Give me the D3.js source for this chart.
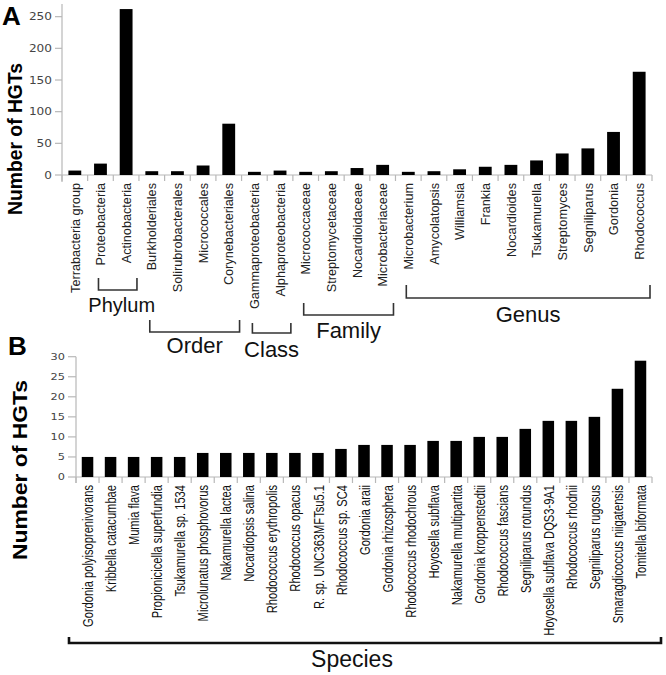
<!DOCTYPE html>
<html><head><meta charset="utf-8">
<script src="https://cdn.jsdelivr.net/npm/d3@7"></script>
<style>
html,body{margin:0;padding:0;background:#fff;}
svg{display:block;font-family:"Liberation Sans",Arial,sans-serif;}
</style></head>
<body>
<svg id="chart" width="666" height="675"></svg>
<script>
// ---------- data ----------
const categoriesA = ["Terrabacteria group","Proteobacteria","Actinobacteria","Burkholderiales","Solirubrobacterales","Micrococcales","Corynebacteriales","Gammaproteobacteria","Alphaproteobacteria","Micrococcaceae","Streptomycetaceae","Nocardioidaceae","Microbacteriaceae","Microbacterium","Amycolatopsis","Williamsia","Frankia","Nocardioides","Tsukamurella","Streptomyces","Segniliparus","Gordonia","Rhodococcus"];
const valuesA = [7,18,262,6,6,15,81,5,7,5,6,11,16,5,6,9,13,16,23,34,42,68,163];
const ticksA = [0,50,100,150,200,250];

const groupNamesA = ["Phylum","Order","Class","Family","Genus"];
const groupFirstA = ["Proteobacteria","Burkholderiales","Gammaproteobacteria","Micrococcaceae","Microbacterium"];
const groupLastA  = ["Actinobacteria","Corynebacteriales","Alphaproteobacteria","Microbacteriaceae","Rhodococcus"];

const speciesB = ["Gordonia polyisoprenivorans","Kribbella catacumbae","Mumia flava","Propionicicella superfundia","Tsukamurella sp. 1534","Microlunatus phosphovorus","Nakamurella lactea","Nocardiopsis salina","Rhodococcus erythropolis","Rhodococcus opacus","R. sp. UNC363MFTsu5.1","Rhodococcus sp. SC4","Gordonia araii","Gordonia rhizosphera","Rhodococcus rhodochrous","Hoyosella subflava","Nakamurella multipartita","Gordonia kroppenstedtii","Rhodococcus fascians","Segniliparus rotundus","Hoyosella subflava DQS3-9A1","Rhodococcus rhodnii","Segniliparus rugosus","Smaragdicoccus niigatensis","Tomitella biformata"];
const valuesB = [5,5,5,5,5,6,6,6,6,6,6,7,8,8,8,9,9,10,10,12,14,14,15,22,29];
const ticksB = [0,5,10,15,20,25,30];
const groupNameB = "Species";

// ---------- layout ----------
const svg = d3.select("#chart");
const axisColor = "#b8b8b8";

function stretchFor(sample, size, target){
  const t = svg.append("text").attr("font-size",size).text(sample);
  const w = t.node().getComputedTextLength();
  t.remove();
  return target / w;
}

// Panel A
const xA = d3.scaleBand().domain(categoriesA).range([62,652]).paddingInner(0.5).paddingOuter(0.25);
const yA = d3.scaleLinear().domain([0,270]).range([175,4]);
const gA = svg.append("g");

gA.append("line").attr("x1",62).attr("x2",62).attr("y1",yA(270)).attr("y2",yA(0)+7).attr("stroke",axisColor).attr("stroke-width",1.2);
ticksA.forEach(t=>{
  gA.append("line").attr("x1",55).attr("x2",62).attr("y1",yA(t)).attr("y2",yA(t)).attr("stroke",axisColor).attr("stroke-width",1.2);
  gA.append("text").attr("x",52).attr("y",yA(t)).attr("dy","0.36em").attr("text-anchor","end")
    .attr("font-family","DejaVu Sans").attr("font-size",10.5).attr("fill","#444")
    .attr("textLength",String(t).length*7.7).attr("lengthAdjust","spacingAndGlyphs").text(t);
});
gA.append("line").attr("x1",62).attr("x2",652).attr("y1",yA(0)).attr("y2",yA(0)).attr("stroke",axisColor).attr("stroke-width",1.2);
const stepA = xA.step();
d3.range(categoriesA.length+1).forEach(i=>{
  const xx = xA(categoriesA[0]) - xA.paddingOuter()*stepA + i*stepA;
  gA.append("line").attr("x1",xx).attr("x2",xx).attr("y1",yA(0)).attr("y2",yA(0)+6).attr("stroke",axisColor).attr("stroke-width",1.2);
});
gA.selectAll("rect.a").data(categoriesA).enter().append("rect")
  .attr("x",d=>xA(d)).attr("width",xA.bandwidth())
  .attr("y",(d,i)=>yA(valuesA[i])).attr("height",(d,i)=>yA(0)-yA(valuesA[i]))
  .attr("fill","#000");
const sA = stretchFor("Terrabacteria group", 13, 110);
gA.selectAll("text.cat").data(categoriesA).enter().append("text")
  .attr("transform",d=>`translate(${xA(d)+xA.bandwidth()/2},183) rotate(-90) scale(${sA},1)`)
  .attr("dy","0.36em").attr("text-anchor","end").attr("font-size",13).attr("fill","#222").text(d=>d);

// group brackets A
const bracketLineY = [290,332,333,315,298];
const bracketTopY  = [278,320,323,303,285];
const labelBaseY   = [312,353,357,338,322];
const labelSize    = [20,22,22,22,22];
groupNamesA.forEach((name,i)=>{
  const x0 = xA(groupFirstA[i]) + xA.bandwidth()/2 - 2;
  const x1 = xA(groupLastA[i]) + xA.bandwidth() + (stepA - xA.bandwidth())/2 - 2;
  gA.append("path").attr("d",`M${x0},${bracketTopY[i]}V${bracketLineY[i]}H${x1}V${bracketTopY[i]}`)
    .attr("fill","none").attr("stroke","#333").attr("stroke-width",1.6);
  gA.append("text").attr("x",(x0+x1)/2 + (i===0?4:0)).attr("y",labelBaseY[i]).attr("text-anchor","middle")
    .attr("font-size",labelSize[i]).attr("fill","#111").text(name);
});

svg.append("text").attr("x",2).attr("y",25).attr("font-size",26).attr("font-weight","bold").text("A");
svg.append("text").attr("transform","translate(22,139) rotate(-90)").attr("text-anchor","middle")
  .attr("font-size",20).attr("font-weight","bold").attr("textLength",152).attr("lengthAdjust","spacingAndGlyphs").text("Number of HGTs");

// Panel B
const xB = d3.scaleBand().domain(speciesB).range([76,652]).paddingInner(0.5).paddingOuter(0.25);
const yB = d3.scaleLinear().domain([0,30]).range([477,356.7]);
const gB = svg.append("g");
gB.append("line").attr("x1",76).attr("x2",76).attr("y1",yB(30)).attr("y2",yB(0)+6).attr("stroke",axisColor).attr("stroke-width",1.2);
ticksB.forEach(t=>{
  gB.append("line").attr("x1",68).attr("x2",76).attr("y1",yB(t)).attr("y2",yB(t)).attr("stroke",axisColor).attr("stroke-width",1.2);
  gB.append("text").attr("x",65).attr("y",yB(t)).attr("dy","0.36em").attr("text-anchor","end")
    .attr("font-family","DejaVu Sans").attr("font-size",9).attr("fill","#444")
    .attr("textLength",String(t).length*7.2).attr("lengthAdjust","spacingAndGlyphs").text(t);
});
gB.append("line").attr("x1",76).attr("x2",652).attr("y1",yB(0)).attr("y2",yB(0)).attr("stroke",axisColor).attr("stroke-width",1.2);
const stepB = xB.step();
d3.range(speciesB.length+1).forEach(i=>{
  const xx = xB(speciesB[0]) - xB.paddingOuter()*stepB + i*stepB;
  gB.append("line").attr("x1",xx).attr("x2",xx).attr("y1",yB(0)).attr("y2",yB(0)+6).attr("stroke",axisColor).attr("stroke-width",1.2);
});
gB.selectAll("rect.b").data(speciesB).enter().append("rect")
  .attr("x",d=>xB(d)).attr("width",xB.bandwidth())
  .attr("y",(d,i)=>yB(valuesB[i])).attr("height",(d,i)=>yB(0)-yB(valuesB[i]))
  .attr("fill","#000");
const sB = stretchFor("Gordonia polyisoprenivorans", 15.5, 142);
gB.selectAll("text.sp").data(speciesB).enter().append("text")
  .attr("transform",d=>`translate(${xB(d)+xB.bandwidth()/2},485) rotate(-90) scale(${sB},1)`)
  .attr("dy","0.36em").attr("text-anchor","end").attr("font-size",15.5).attr("fill","#111").text(d=>d);

const sx0 = 69, sx1 = 661;
gB.append("path").attr("d",`M${sx0},637V643H${sx1}V637`).attr("fill","none").attr("stroke","#111").attr("stroke-width",2.6);
gB.append("text").attr("x",352).attr("y",667).attr("text-anchor","middle").attr("font-size",23).attr("fill","#111").text(groupNameB);

svg.append("text").attr("x",8).attr("y",355).attr("font-size",26).attr("font-weight","bold").text("B");
svg.append("text").attr("transform","translate(27,470) rotate(-90)").attr("text-anchor","middle")
  .attr("font-size",20).attr("font-weight","bold").attr("textLength",180).attr("lengthAdjust","spacingAndGlyphs").text("Number of HGTs");
</script>
</body></html>
